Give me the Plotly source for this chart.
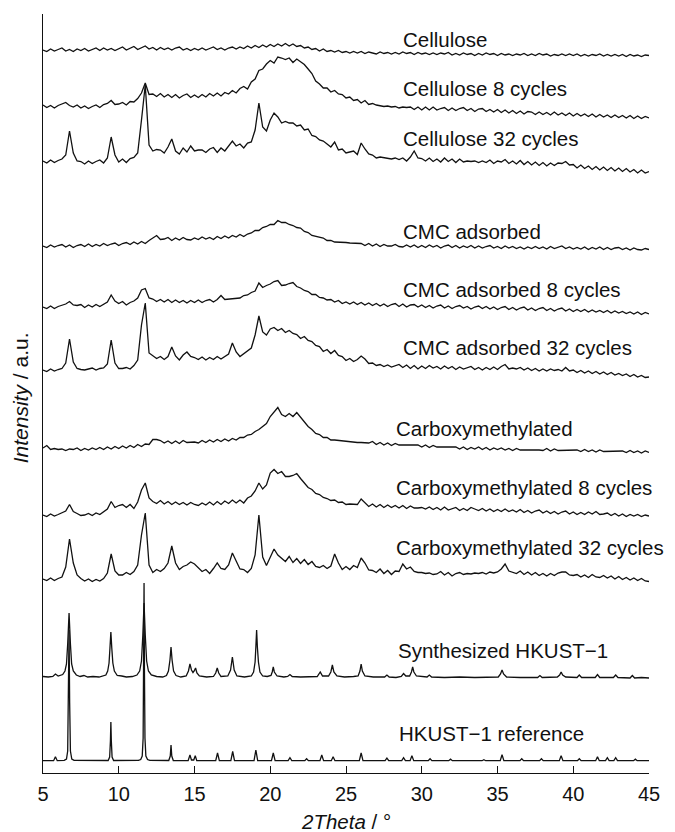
import numpy as np
import plotly.graph_objects as go

# 2Theta grid (degrees) for the measured (noisy) patterns, 5 .. 45 in 0.25 steps
theta = np.round(np.arange(5.0, 45.0001, 0.25), 2)

cellulose = [
    8, 6.5, 9, 7, 8.5, 10, 7, 8.5, 6.5, 9, 7.5, 9.5, 7, 8.5, 10, 7.5, 10, 8, 9.5, 7.5, 9.5,
    11, 8, 10, 11.5, 8.5, 10.5, 12, 9, 10.5, 8, 10.5, 8.5, 10, 8, 10, 11, 8, 9.5, 7.5, 9.5,
    8, 10, 8, 9.5, 11, 8.5, 10, 8, 10, 11, 9, 11, 9.5, 12, 10, 12.5, 10.5, 13, 11, 13.5,
    11.5, 14, 12, 14.5, 12, 14, 11.5, 12.5, 10, 11, 8.5, 9.5, 7, 9, 6.5, 7.5, 6, 7.5, 5.5, 6.5,
    5, 6.5, 5, 6.5, 4.5, 6, 5, 4, 6, 4.5, 5.5, 4, 5.5, 4, 6, 4.5, 5.5, 3.5, 5.5, 4,
    5, 3.5, 5, 3.5, 5, 4, 5.5, 3, 4.5, 3, 5, 3.5, 4.5, 2.5, 4.5, 3, 5, 3.5, 4.5, 2.5,
    4.5, 3, 4, 2.5, 4, 3, 4.5, 2.5, 4, 2.5, 4.5, 3, 4, 2, 3.5, 2.5, 4, 2.5, 4, 2.5,
    4, 2, 3.5, 2, 3.5, 2.5, 4, 2, 3.5, 2, 3.5, 2, 3.5, 1.5, 3.5, 2, 3, 1.5, 3, 2.5,
]
cellulose_8 = [
    15, 12.5, 14.5, 12, 14.5, 16, 17.5, 14.5, 13, 15, 12, 14, 11.5, 13.5, 15, 12.5, 15.5, 16.5, 19.5, 15.5, 16,
    17.5, 15, 18.5, 18, 21.5, 27, 37, 25.5, 26, 23.5, 26.5, 23, 25.5, 22.5, 25.5, 22, 24.5, 26, 22.5, 25,
    22.5, 25.5, 23, 26.5, 24, 27, 24, 27.5, 26, 29.5, 27, 31.5, 33.5, 31, 38, 41, 49.5, 51, 56, 59.5,
    57, 63, 62, 60.5, 62, 57.5, 61, 58, 55.5, 51, 46.5, 39, 36, 32, 32, 28, 29.5, 26, 25.5, 22,
    23, 19.5, 20.5, 17, 19.5, 15.5, 16.5, 15, 14.5, 13.5, 14, 13, 13.5, 12, 13, 12.5, 13, 10.5, 13, 10,
    13, 10, 13, 10, 11.5, 12.5, 9.5, 12, 9.5, 11.5, 12.5, 9.5, 11.5, 8.5, 11, 11.5, 8.5, 10.5, 8, 10.5,
    7.5, 10, 7, 9.5, 6.5, 9, 6, 8.5, 8, 5.5, 8, 5.5, 7.5, 5, 8, 5, 7, 4.5, 7, 4,
    6.5, 4, 6, 3.5, 6, 3, 5.5, 3, 5, 2.5, 5, 2.5, 4.5, 2, 4.5, 1.5, 4, 1.5, 3.5, 2,
]
cellulose_32 = [
    14, 12, 15, 12.5, 14.5, 16, 20, 44, 22, 14, 13.5, 11, 14, 11.5, 13.5, 15, 12, 17, 38, 20, 13,
    16, 12.5, 16.5, 17.5, 22, 55, 90, 30, 24, 25.5, 25, 22, 28, 36, 24, 21, 27, 23, 29, 24,
    25, 25, 22.5, 26, 27.5, 22.5, 27, 24, 29, 34, 29, 31, 27, 32, 33, 45, 72, 48, 44, 55,
    62, 58, 52, 53.5, 52, 52, 49, 50, 45, 46, 39.5, 38.5, 35, 34, 31, 28, 33, 25, 26, 22,
    23, 24, 20.5, 32, 26, 21, 20, 17, 18, 17.5, 16.5, 16, 17, 15.5, 17, 14, 18, 24, 17, 16.5,
    14, 17, 13.5, 16, 13, 17, 13.5, 16, 12.5, 16, 13, 14, 13.5, 14, 12.5, 14, 12.5, 15, 11.5, 14,
    13, 15.5, 11.5, 14, 11, 14.5, 10.5, 13.5, 10, 13, 9.5, 12.5, 9, 12, 9.5, 12, 11.5, 13.5, 10, 10.5,
    7, 10, 6.5, 9, 5.5, 8.5, 5, 8, 4.5, 7.5, 4, 7, 3.5, 6.5, 3, 5.5, 2, 5, 2, 3.5,
]
cmc_adsorbed = [
    6, 4.5, 7, 5, 6.5, 7.5, 5, 7, 4.5, 6.5, 7.5, 5.5, 8, 5.5, 7.5, 6, 8.5, 6.5, 8, 9, 6.5,
    8.5, 9.5, 7.5, 10, 8, 10.5, 8.5, 11.5, 14, 16.5, 12.5, 13, 14.5, 11.5, 14, 12, 14.5, 12.5, 12, 14,
    12.5, 15, 13, 14.5, 12.5, 15.5, 13.5, 16, 14, 16.5, 15, 17.5, 15.5, 18, 19, 21.5, 21.5, 24.5, 25.5, 27.5,
    27.5, 31.5, 29.5, 29.5, 27.5, 26.5, 24.5, 24, 20.5, 19.5, 16.5, 15.5, 15, 14, 11.5, 11.5, 10, 10, 9.5, 9.5,
    9, 9, 8.5, 8.5, 6.5, 8.5, 6, 8, 5.5, 7.5, 6, 6, 7.5, 5.5, 5, 7, 5, 7, 4.5, 6.5,
    4.5, 7, 5, 6.5, 4, 6, 7, 4.5, 6.5, 4, 6, 4.5, 6.5, 4, 6, 4, 5.5, 6.5, 4, 5.5,
    3.5, 6, 4, 5.5, 3.5, 5, 3, 5, 3.5, 5.5, 3.5, 5, 3, 5.5, 3.5, 5, 6, 3.5, 5, 3,
    4.5, 3, 5, 2.5, 4.5, 3, 5, 2.5, 4.5, 2.5, 4, 4.5, 2.5, 4, 2, 4, 2.5, 2, 3.5, 2.5,
]
cmc_adsorbed_8 = [
    9, 7.5, 10, 7.5, 9.5, 11, 12, 14.5, 11, 10.5, 11.5, 8.5, 11, 9, 11.5, 9.5, 12, 14, 21, 15, 12.5,
    14.5, 11, 13.5, 15, 18, 26, 27.5, 18, 17, 14.5, 16.5, 14, 16.5, 13.5, 16, 13.5, 15.5, 13, 15.5, 13.5,
    16, 13.5, 15.5, 16.5, 14, 16.5, 20.5, 16.5, 17, 17.5, 17.5, 18, 20.5, 21, 23.5, 25, 33, 28.5, 30.5, 32,
    34.5, 35.5, 30.5, 31, 32.5, 33.5, 29.5, 28, 25.5, 24.5, 21.5, 21.5, 18.5, 18, 16, 16.5, 14, 15.5, 12.5, 14,
    12, 14, 11.5, 13.5, 11, 13, 10.5, 12.5, 10, 12, 9.5, 11.5, 12.5, 9.5, 12, 9, 11, 11.5, 9, 11,
    8.5, 10.5, 8, 10, 11, 8, 10, 7.5, 9.5, 10.5, 8, 9.5, 7, 9, 10, 7.5, 9.5, 7, 9, 6.5,
    8.5, 9.5, 6.5, 8.5, 6, 8, 9, 6, 8, 5.5, 7.5, 8.5, 5.5, 7.5, 5, 7, 8, 5, 7, 4.5,
    6.5, 4.5, 6.5, 4, 6, 4, 5.5, 3.5, 5.5, 3, 5, 3, 4.5, 2.5, 4, 2, 4, 1.5, 3.5, 2,
]
cmc_adsorbed_32 = [
    10, 8.5, 11, 9, 10.5, 11.5, 17, 41, 18, 11.5, 10.5, 10, 11, 12, 10, 11.5, 12, 16, 40, 17, 11.5,
    11.5, 12.5, 11, 14.5, 20, 55, 77, 27, 24.5, 21.5, 23.5, 20.5, 23.5, 33, 24, 20, 25, 28, 23.5, 22.5,
    20.5, 23, 20, 22.5, 20.5, 23.5, 21, 23.5, 26, 37, 28, 23.5, 26.5, 29, 32, 45, 64, 48, 45, 51,
    52.5, 49.5, 51.5, 47.5, 49.5, 46.5, 45.5, 41.5, 43.5, 39.5, 38.5, 34.5, 33.5, 28.5, 30.5, 26.5, 29.5, 24.5, 23.5, 19.5,
    21.5, 18.5, 20.5, 24, 21, 16.5, 17, 14.5, 15.5, 13.5, 15, 13, 14, 15.5, 12.5, 15, 11.5, 14.5, 11, 14,
    11.5, 14.5, 12, 13.5, 11, 14, 11.5, 13.5, 10.5, 13, 11, 12.5, 13.5, 10.5, 12.5, 10, 12.5, 10.5, 13, 10.5,
    13.5, 15.5, 11, 12, 11, 12.5, 10, 12, 9.5, 11.5, 9, 11, 9, 11, 9.5, 10.5, 9, 12.5, 9, 10,
    7.5, 9.5, 7, 9, 6.5, 8.5, 6, 8, 5.5, 7.5, 5, 6.5, 4.5, 6, 3.5, 5.5, 3, 4.5, 2.5, 3,
]
carboxymethylated = [
    6, 8.5, 4.5, 5.5, 4.5, 5, 3.5, 5, 4.5, 6, 3.5, 5.5, 4, 6, 4.5, 6.5, 4.5, 7, 5, 7.5, 5.5,
    8, 6, 8.5, 6.5, 9.5, 7.5, 10, 9.5, 14.5, 14.5, 13.5, 11, 13, 10.5, 13, 10.5, 13.5, 11.5, 11.5, 12,
    11, 13.5, 11.5, 14, 12, 14.5, 12.5, 15, 13, 15.5, 14, 16.5, 16.5, 19, 19.5, 22.5, 24.5, 27.5, 30.5, 37.5,
    41.5, 46.5, 39.5, 37.5, 40.5, 37.5, 41.5, 36.5, 32.5, 27.5, 24.5, 20.5, 19.5, 16.5, 16.5, 14, 14, 13.5, 13, 12.5,
    12.5, 12, 11.5, 11.5, 11, 11, 12.5, 9.5, 11.5, 9, 11, 8.5, 10.5, 9, 9, 9, 8.5, 8.5, 9, 7,
    9, 6.5, 8.5, 7, 7, 7, 6.5, 6.5, 7, 5, 7, 4.5, 6.5, 5, 7, 4.5, 6.5, 4, 6, 4.5,
    6, 4, 5.5, 3.5, 5.5, 4, 4, 4, 4.5, 4.5, 4, 3.5, 5.5, 3, 5, 3.5, 3.5, 3.5, 4, 4,
    4, 2.5, 4.5, 2.5, 4, 2, 4, 2.5, 2.5, 2.5, 3, 3, 3, 1.5, 3.5, 1.5, 3, 1, 3, 1.5,
]
carboxymethylated_8 = [
    5, 3.5, 6, 4, 5.5, 7, 9, 15.5, 8.5, 6.5, 4.5, 5, 6.5, 4.5, 7, 5.5, 8.5, 11, 18.5, 12.5, 14.5,
    15.5, 12.5, 15.5, 11.5, 18, 30, 37, 22, 18.5, 16.5, 19.5, 16, 18.5, 15.5, 18, 15.5, 17.5, 15, 17.5, 15.5,
    14.5, 17, 15, 18, 15, 18.5, 15.5, 19, 16.5, 20, 17, 20, 17, 22, 24, 29, 37, 31, 35, 47,
    50.5, 46.5, 48.5, 43.5, 43.5, 44.5, 46.5, 41.5, 37.5, 32.5, 30.5, 26.5, 25.5, 22.5, 21.5, 19.5, 20, 17.5, 18, 15.5,
    16, 16, 15.5, 21, 17, 13.5, 16, 13, 15.5, 12.5, 15, 12.5, 14.5, 12, 14.5, 11.5, 14, 12, 12, 12.5,
    11, 13, 10.5, 12.5, 10, 13, 10, 11.5, 12.5, 9.5, 11.5, 9.5, 12.5, 11, 9.5, 11.5, 9, 11, 8.5, 10.5,
    8.5, 11, 8.5, 10, 8, 10.5, 7.5, 9.5, 7, 9, 10, 7, 9, 6.5, 8.5, 6, 8, 9, 6, 8,
    5.5, 7.5, 5.5, 8, 6, 8.5, 5.5, 6, 7, 4.5, 6.5, 4, 6, 3.5, 5.5, 4, 5.5, 3.5, 5, 4,
]
carboxymethylated_32 = [
    6, 4.5, 7, 4.5, 6.5, 8, 18, 46, 22, 10, 6.5, 4, 6, 3.5, 5.5, 4, 6.5, 12, 31, 14, 10,
    10, 12.5, 10.5, 13.5, 20, 50, 72, 20, 12.5, 15.5, 13.5, 16.5, 22, 39, 22, 15.5, 18.5, 20, 23, 21,
    17, 13.5, 15.5, 11.5, 16.5, 22, 16.5, 15.5, 20, 32, 24, 16, 15.5, 12.5, 16.5, 30, 70, 28, 19.5, 27,
    36, 30, 26.5, 23.5, 28.5, 22.5, 26.5, 21.5, 25.5, 20.5, 23.5, 18.5, 17.5, 19.5, 16.5, 19, 31, 22, 15.5, 18.5,
    15.5, 19.5, 17.5, 27, 22, 15, 14.5, 12.5, 16, 11.5, 14.5, 10.5, 14, 13.5, 21, 16, 18, 13.5, 12.5, 12.5,
    11.5, 12, 10.5, 11, 13.5, 10, 12.5, 9, 11.5, 12.5, 10.5, 11.5, 11, 12, 11.5, 12.5, 11, 13, 12, 13,
    16, 21, 14, 12.5, 11.5, 14, 10.5, 13, 10, 12.5, 9.5, 11.5, 9, 11.5, 9.5, 12, 13, 13, 10, 9.5,
    10.5, 8, 10, 7.5, 10.5, 8, 7.5, 9.5, 7, 9, 6, 8.5, 5.5, 7.5, 5, 7, 4.5, 6.5, 4, 3.5,
]

# Synthesized HKUST-1 (2Theta, intensity)
synth_xrd = [
    (5.0, 3.5), (5.35, 3), (5.65, 3.5), (5.82, 6), (6.0, 4), (6.15, 4.5), (6.3, 5.5), (6.45, 9),
    (6.55, 16), (6.63, 36), (6.72, 67), (6.81, 36), (6.89, 16), (7.0, 9), (7.2, 5), (7.45, 3.5),
    (7.7, 4.5), (7.95, 3), (8.3, 3.5), (8.7, 3), (9.0, 4), (9.15, 5), (9.27, 9), (9.36, 17),
    (9.42, 32), (9.48, 48), (9.54, 32), (9.61, 17), (9.71, 9), (9.9, 4.5), (10.2, 4), (10.5, 3),
    (10.9, 3.5), (11.2, 5), (11.38, 9), (11.5, 19), (11.59, 45), (11.67, 77), (11.75, 45),
    (11.84, 19), (11.96, 9), (12.15, 5), (12.5, 3.5), (12.9, 3), (13.15, 4.5), (13.28, 9),
    (13.38, 20), (13.45, 33), (13.52, 20), (13.62, 9), (13.78, 4.5), (14.1, 3), (14.45, 4),
    (14.6, 9), (14.7, 16), (14.8, 10), (14.9, 7.5), (14.98, 9), (15.07, 12), (15.16, 7),
    (15.32, 4), (15.8, 3), (16.25, 3.5), (16.4, 7), (16.5, 12), (16.6, 7), (16.75, 3.5),
    (17.2, 4), (17.38, 10), (17.5, 23), (17.62, 10), (17.8, 4), (18.3, 3), (18.75, 4), (18.9, 8),
    (19.0, 18), (19.05, 33), (19.1, 50), (19.15, 33), (19.22, 18), (19.32, 8), (19.5, 4),
    (19.8, 3.5), (20.05, 4.5), (20.13, 8), (20.2, 13), (20.27, 8), (20.45, 4), (20.9, 3),
    (21.15, 3.5), (21.3, 5.5), (21.45, 3.5), (22.0, 3), (22.6, 3.5), (23.1, 3.5), (23.3, 8),
    (23.45, 4), (23.85, 4), (24.0, 8), (24.1, 15), (24.2, 8), (24.4, 4), (24.9, 3), (25.5, 3.5),
    (25.8, 4), (25.92, 9), (26.0, 16), (26.08, 9), (26.25, 4), (26.8, 3), (27.55, 3), (27.7, 5),
    (27.85, 3), (28.3, 2.5), (28.65, 3.5), (28.8, 6.5), (28.95, 4), (29.2, 4), (29.32, 8),
    (29.4, 13), (29.48, 8), (29.65, 4), (30.35, 3), (30.5, 5), (30.65, 3), (31.5, 2.5),
    (32.5, 3), (33.5, 2.5), (34.3, 3), (35.05, 3), (35.2, 6), (35.3, 10), (35.4, 6), (35.6, 3),
    (36.5, 2.5), (37.65, 2.5), (37.8, 4.5), (37.95, 2.5), (38.95, 3), (39.1, 5), (39.2, 8),
    (39.3, 5), (39.5, 3), (40.25, 2.5), (40.4, 5), (40.55, 2.5), (41.45, 2.5), (41.6, 5.5),
    (41.75, 2.5), (42.65, 2.5), (42.8, 5), (42.95, 2.5), (43.75, 2), (43.9, 4.5), (44.05, 2),
    (44.5, 2.5), (45.0, 2),
]

# HKUST-1 reference pattern (2Theta, intensity)
reference_xrd = [
    (5.0, 2.3), (5.7, 2.3), (5.82, 6.3), (5.94, 2.3), (6.4, 2.6), (6.55, 4), (6.63, 12),
    (6.68, 60), (6.72, 133), (6.76, 60), (6.81, 12), (6.9, 4), (7.05, 2.6), (9.3, 2.5),
    (9.4, 6), (9.45, 22), (9.48, 41), (9.51, 22), (9.56, 6), (9.66, 2.5), (11.3, 2.6),
    (11.45, 3.5), (11.55, 7), (11.61, 25), (11.645, 95), (11.67, 180), (11.695, 95), (11.73, 25),
    (11.79, 7), (11.9, 3.5), (12.05, 2.6), (13.3, 2.5), (13.4, 7), (13.45, 18), (13.5, 7),
    (13.6, 2.5), (14.58, 2.3), (14.7, 8), (14.8, 3), (14.95, 3), (15.05, 7.3), (15.15, 2.4),
    (16.4, 2.3), (16.52, 10), (16.64, 2.3), (17.4, 2.3), (17.52, 11.5), (17.64, 2.3),
    (18.93, 2.4), (19.05, 13), (19.17, 2.4), (20.08, 2.3), (20.2, 10), (20.32, 2.3),
    (21.18, 2.3), (21.3, 5.3), (21.42, 2.3), (22.28, 2.3), (22.4, 4.3), (22.52, 2.3),
    (23.28, 2.3), (23.4, 8), (23.52, 2.3), (24.03, 2.3), (24.15, 6.3), (24.27, 2.3),
    (25.88, 2.3), (26.0, 10), (26.12, 2.3), (27.58, 2.3), (27.7, 4.8), (27.82, 2.3),
    (28.68, 2.3), (28.8, 5.3), (28.92, 2.3), (29.23, 2.3), (29.35, 7.3), (29.47, 2.3),
    (30.43, 2.3), (30.55, 4.3), (30.67, 2.3), (31.78, 2.3), (31.9, 3.8), (32.02, 2.3),
    (33.98, 2.3), (34.1, 3.3), (34.22, 2.3), (35.18, 2.3), (35.3, 8.3), (35.42, 2.3),
    (36.48, 2.3), (36.6, 4.3), (36.72, 2.3), (37.78, 2.3), (37.9, 4.3), (38.02, 2.3),
    (39.08, 2.3), (39.2, 7.3), (39.32, 2.3), (40.28, 2.3), (40.4, 4.3), (40.52, 2.3),
    (41.48, 2.3), (41.6, 6.3), (41.72, 2.3), (42.13, 2.3), (42.25, 5.3), (42.37, 2.3),
    (42.68, 2.3), (42.8, 5.3), (42.92, 2.3), (43.98, 2.3), (44.1, 3.8), (44.22, 2.3), (45.0, 2.3),
]

labels = [
    "Cellulose", "Cellulose 8 cycles", "Cellulose 32 cycles",
    "CMC adsorbed", "CMC adsorbed 8 cycles", "CMC adsorbed 32 cycles",
    "Carboxymethylated", "Carboxymethylated 8 cycles", "Carboxymethylated 32 cycles",
    "Synthesized HKUST\u22121", "HKUST\u22121 reference",
]
x_ticks = [5, 10, 15, 20, 25, 30, 35, 40, 45]

# vertical stacking offsets of each pattern (plot layout, not data)
offsets = [715, 653, 598, 521, 457, 393, 319, 253, 188, 93, 10]
# label anchor positions (2Theta, height in stacked units)
label_pos = [
    (28.65, 734), (28.65, 685), (28.65, 635),
    (28.65, 542), (28.65, 484), (28.65, 426),
    (28.2, 345), (28.2, 286), (28.2, 226),
    (28.3, 123), (28.35, 40),
]

series_x = [theta] * 9 + [np.array([p[0] for p in synth_xrd]), np.array([p[0] for p in reference_xrd])]
series_y = [cellulose, cellulose_8, cellulose_32, cmc_adsorbed, cmc_adsorbed_8, cmc_adsorbed_32,
            carboxymethylated, carboxymethylated_8, carboxymethylated_32,
            [p[1] for p in synth_xrd], [p[1] for p in reference_xrd]]

FONT = "Liberation Sans, Arial, Helvetica, sans-serif"
INK = "#111111"

fig = go.Figure()
for xs, ys, off, name in zip(series_x, series_y, offsets, labels):
    fig.add_trace(go.Scatter(
        x=xs, y=np.array(ys, dtype=float) + off, mode="lines", name=name,
        line=dict(color=INK, width=1.3), hoverinfo="skip",
    ))

annotations = []
for (lx, ly), text in zip(label_pos, labels):
    annotations.append(dict(x=lx, y=ly, xref="x", yref="y", text=text, showarrow=False,
                            xanchor="left", yanchor="middle",
                            font=dict(family=FONT, size=20.5, color=INK)))
annotations.append(dict(x=25, y=-0.0635, xref="x", yref="paper", text="<i>2Theta</i> / \u00b0",
                        showarrow=False, xanchor="center", yanchor="middle",
                        font=dict(family=FONT, size=20.5, color=INK)))
annotations.append(dict(x=-0.038, y=0.495, xref="paper", yref="paper", text="<i>Intensity</i> / a.u.",
                        showarrow=False, textangle=-90, xanchor="center", yanchor="middle",
                        font=dict(family=FONT, size=21, color=INK)))

# the page body adds an 8 px margin, so the figure is offset by 8 px and margins compensate
fig.update_layout(
    width=667, height=830,
    margin=dict(l=35, r=26, t=6, b=65),
    plot_bgcolor="white", paper_bgcolor="white",
    showlegend=False,
    font=dict(family=FONT, color=INK),
    annotations=annotations,
)
fig.update_xaxes(
    range=[5, 45], tickvals=x_ticks, ticktext=[str(t) for t in x_ticks],
    ticks="inside", ticklen=7, tickwidth=1.3, tickcolor=INK,
    showline=True, linecolor=INK, linewidth=1.3,
    showgrid=False, zeroline=False, tickfont=dict(family=FONT, size=20, color=INK),
    ticklabelstandoff=3,
)
fig.update_yaxes(
    range=[0, 759], showticklabels=False, ticks="",
    showline=True, linecolor=INK, linewidth=1.3,
    showgrid=False, zeroline=False,
)

fig.write_html("out.html")
